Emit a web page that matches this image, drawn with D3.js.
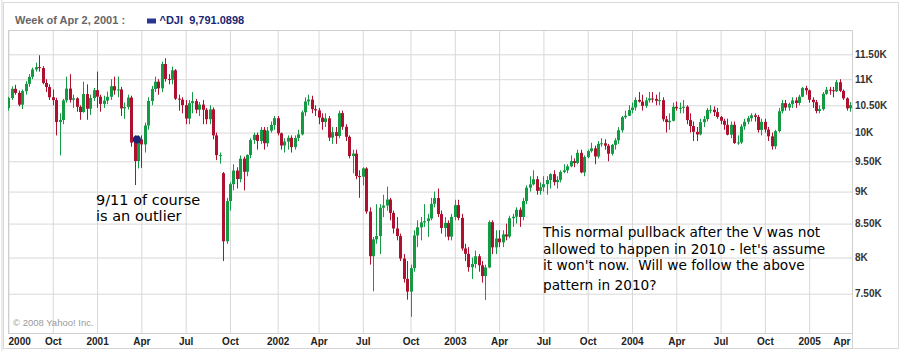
<!DOCTYPE html>
<html><head><meta charset="utf-8">
<script src="https://cdn.jsdelivr.net/npm/d3@7"></script>
<style>
html,body{margin:0;padding:0;background:#fff;}
svg{display:block;}
</style></head>
<body><svg id="c" width="903" height="351"></svg>
<script>
// ---------------- DATA (weekly ^DJI candles) ----------------
const firstWeek = "2000-07-03";
const opens = [
10448,10636,10813,10734,10511,10768,10909,11046,11193,11239,
11221,10927,10847,10651,10597,10192,10227,10591,10818,10603,
10630,10470,10374,10713,10435,10636,10787,10662,10525,10588,
10660,10864,10781,10800,10442,10466,10645,9823,9505,9879,
9791,10127,10580,10810,10951,10821,11302,11005,10990,11176,
10624,10605,10502,10253,10539,10577,10417,10513,10416,10241,
10423,9950,9606,9300,8236,8848,9120,9344,9204,9545,
9324,9608,9867,9960,9852,10049,9811,10035,10137,10260,
9988,9772,9840,9907,9744,9903,9968,10369,10572,10607,
10428,10404,10272,10191,10257,9911,10007,9940,10353,10104,
9925,9590,9632,9254,9243,9380,8685,8019,8264,8313,
8745,8778,8873,8664,8427,8313,7986,7701,7528,7850,
8322,8444,8518,8537,8579,8805,8896,8646,8434,8511,
8304,8602,8785,8587,8131,8054,7864,7909,8018,7891,
7740,7860,8522,8146,8277,8221,8338,8306,8583,8605,
8713,8601,8850,9063,9117,9201,9012,9070,9120,9188,
9285,9154,9191,9322,9349,9416,9503,9472,9645,9313,
9572,9675,9722,9582,9801,9810,9769,9629,9782,9863,
10042,10278,10305,10410,10459,10601,10568,10488,10593,10628,
10619,10584,10596,10240,10187,10213,10471,10442,10452,10473,
10226,10117,10013,9967,10188,10243,10410,10416,10372,10283,
10213,10140,9962,10140,9815,9825,10110,10195,10260,10313,
10284,10047,10193,10055,9933,9758,10027,10388,10539,10457,
10522,10592,10543,10662,10827,10783,10604,10558,10393,10427,
10716,10796,10785,10766,10941,10774,10630,10443];
const highs = [
10660,10860,10890,10780,10800,10960,11100,11230,11330,11480,
11260,11000,10900,10800,10640,10350,10620,11050,11100,10700,
10650,10500,10950,10900,10700,10830,11150,10700,10680,10760,
11000,11050,11050,10850,10550,10700,10680,9950,9950,9950,
10180,10650,10870,11050,11000,11350,11420,11100,11250,11200,
10700,10650,10600,10600,10750,10620,10560,10600,10450,10500,
10460,10000,9650,9320,8900,9150,9450,9400,9600,9580,
9620,9900,10000,10000,10100,10100,10100,10200,10300,10300,
10000,9900,9950,9950,9950,10050,10400,10650,10700,10680,
10500,10450,10350,10350,10300,10100,10100,10400,10400,10150,
9950,9700,9700,9350,9400,9400,8750,8300,8800,8800,
8950,9080,8900,8700,8600,8350,8050,7950,7900,8400,
8550,8600,8800,8650,8900,9000,9050,8700,8600,8550,
8650,8870,8870,8650,8200,8150,8000,8100,8050,7950,
7900,8550,8550,8400,8400,8400,8500,8620,8650,8750,
8750,8900,9100,9250,9350,9250,9150,9250,9250,9300,
9350,9250,9350,9450,9450,9600,9550,9700,9700,9600,
9700,9820,9770,9850,9900,9880,9800,9800,9900,10100,
10300,10400,10500,10550,10650,10750,10700,10650,10750,10750,
10700,10750,10650,10300,10350,10550,10570,10550,10600,10500,
10350,10200,10100,10250,10300,10450,10500,10480,10450,10300,
10250,10250,10200,10200,9950,10150,10250,10300,10350,10350,
10320,10250,10250,10100,10000,10050,10450,10600,10600,10550,
10650,10650,10700,10850,10870,10800,10650,10600,10500,10750,
10850,10850,10850,10984,11000,10800,10650,10560];
const lows = [
10400,10600,10700,10480,10430,10700,10850,11000,11150,11150,
10900,10750,10600,10500,9950,9600,10150,10550,10550,10450,
10380,10230,10360,10230,10320,10580,10450,10380,10450,10520,
10600,10700,10650,10300,10250,10420,9750,9106,9380,9389,
9650,10050,10500,10750,10700,10750,10950,10900,10900,10600,
10400,10350,10150,10150,10350,10350,10300,10150,10150,10150,
9880,9520,9460,7950,8200,8700,9020,9050,9150,9020,
9250,9550,9800,9700,9800,9700,9750,10000,10050,9950,
9700,9650,9700,9650,9700,9850,9950,10300,10500,10350,
10300,10150,10050,10100,9850,9800,9800,9900,10050,9850,
9550,9300,9200,8900,9100,8650,7900,7532,8200,8050,
8600,8700,8550,8350,8250,7950,7650,7420,7197,7800,
8150,8250,8450,8300,8550,8750,8600,8350,8300,8250,
8250,8550,8550,8100,7950,7800,7700,7850,7800,7650,
7416,7850,8050,8050,8150,8150,8250,8280,8450,8500,
8450,8550,8800,9000,9100,8950,8950,9000,8950,9050,
9100,9050,9150,9300,9300,9400,9400,9450,9300,9250,
9550,9650,9450,9550,9750,9700,9500,9600,9700,9800,
10000,10250,10300,10350,10400,10550,10400,10450,10550,10550,
10500,10500,10200,10000,10050,10200,10400,10350,10350,10150,
10000,9850,9850,9950,10100,10200,10350,10300,10250,10150,
10050,9950,9900,9800,9784,9800,10050,10150,10200,10200,
10000,9950,10000,9850,9700,9708,10000,10350,10400,10400,
10450,10450,10500,10650,10700,10550,10450,10350,10350,10400,
10700,10700,10650,10750,10750,10600,10400,10380];
const closes = [
10636,10813,10734,10511,10768,10909,11046,11193,11239,11221,
10927,10847,10651,10597,10192,10227,10591,10818,10603,10630,
10470,10374,10713,10435,10636,10787,10662,10525,10588,10660,
10864,10781,10800,10442,10466,10645,9823,9505,9879,9791,
10127,10580,10810,10951,10821,11302,11005,10990,11176,10624,
10605,10502,10253,10539,10577,10417,10513,10416,10241,10423,
9950,9606,9606,8236,8848,9120,9344,9204,9545,9324,
9608,9867,9960,9852,10049,9811,10035,10137,10260,9988,
9772,9840,9907,9744,9903,9968,10369,10572,10607,10428,
10404,10272,10191,10257,9911,10007,9940,10353,10104,9925,
9590,9632,9254,9243,9380,8685,8019,8264,8313,8745,
8778,8873,8664,8427,8313,7986,7701,7528,7850,8322,
8444,8518,8537,8579,8805,8896,8646,8434,8511,8304,
8602,8785,8587,8131,8054,7864,7909,8018,7891,7740,
7860,8522,8146,8277,8221,8338,8306,8583,8605,8713,
8601,8850,9063,9117,9201,9012,9070,9120,9188,9285,
9154,9191,9322,9349,9416,9503,9472,9645,9313,9572,
9675,9722,9582,9801,9810,9769,9629,9782,9863,10042,
10278,10305,10410,10459,10601,10568,10488,10593,10628,10619,
10584,10596,10240,10187,10213,10471,10442,10452,10473,10226,
10117,10013,9967,10188,10243,10410,10416,10372,10283,10213,
10140,9962,10140,9815,9825,10110,10195,10260,10313,10284,
10047,10193,10055,9933,9758,10027,10388,10539,10457,10522,
10592,10543,10662,10827,10783,10604,10558,10393,10427,10716,
10796,10785,10766,10941,10774,10630,10443,10503];

const yTickValues = [7500,8000,8500,9000,9500,10000,10500,11000,11500];
const yTickLabels = ["7.50K","8K","8.50K","9K","9.50K","10K","10.50K","11K","11.50K"];
const xTickDates = ["2000-07-03","2000-10-02","2001-01-01","2001-04-02","2001-07-02","2001-10-01",
  "2002-01-07","2002-04-01","2002-07-01","2002-10-07","2003-01-06","2003-04-07","2003-07-07",
  "2003-10-06","2004-01-05","2004-04-05","2004-07-05","2004-10-04","2005-01-03","2005-04-04"];
const xTickLabels = ["2000","Oct","2001","Apr","Jul","Oct","2002","Apr","Jul","Oct","2003",
  "Apr","Jul","Oct","2004","Apr","Jul","Oct","2005","Apr"];
const xDomain = ["2000-07-02","2005-04-01"];
const hoverWeek = "2001-04-02";
const hoverValue = 9791.0898;
const headerLabel = "Week of Apr 2, 2001 :";
const seriesLabel = "^DJI  9,791.0898";
const note1 = ["9/11 of course","is an outlier"];
const note2 = ["This normal pullback after the V was not",
  "allowed to happen in 2010 - let's assume",
  "it won't now.  Will we follow the above",
  "pattern in 2010?"];

// ---------------- CHART ----------------
const UP = "#139a43", DOWN = "#ae1030", NAVY = "#1b2672", GRID = "#d8d8d8";
const P = {left:8, right:852, top:30, bottom:333};
const parse = d3.utcParse("%Y-%m-%d");
const start = parse(firstWeek);
const candles = closes.map((c,i)=>({date:d3.utcDay.offset(start,7*i), o:opens[i], h:highs[i], l:lows[i], c:c}));

const x = d3.scaleUtc().domain(xDomain.map(parse)).range([P.left, P.right]);
const y = d3.scaleLog().domain([7500,11500]).range([293.7,54.3]);

const svg = d3.select("#c");
svg.append("rect").attr("x",0).attr("y",0).attr("width",903).attr("height",351).attr("fill","#fff");
// outer frame
svg.append("rect").attr("x",3.5).attr("y",2.5).attr("width",895).attr("height",346)
  .attr("fill","none").attr("stroke","#dadada").attr("stroke-width",1);
svg.append("rect").attr("x",1).attr("y",0).attr("width",2).attr("height",351).attr("fill","#ececec");

// header
svg.append("text").attr("x",15).attr("y",24).text(headerLabel)
  .attr("font-family","'Liberation Sans',Arial,sans-serif").attr("font-weight","bold")
  .attr("font-size","11px").attr("fill","#666");
svg.append("rect").attr("x",147).attr("y",18.5).attr("width",9).attr("height",5).attr("fill","#2a3590");
svg.append("text").attr("x",159.5).attr("y",24).text(seriesLabel).attr("xml:space","preserve")
  .attr("font-family","'Liberation Sans',Arial,sans-serif").attr("font-weight","bold")
  .attr("font-size","11px").attr("fill",NAVY);

// y axis + horizontal grid
const yAxis = d3.axisRight(y).tickValues(yTickValues)
  .tickFormat((d,i)=>yTickLabels[i]).tickSizeInner(-(P.right-P.left)).tickSizeOuter(0).tickPadding(3);
const gy = svg.append("g").attr("transform",`translate(${P.right},0)`).call(yAxis);
gy.select(".domain").remove();
gy.selectAll("line").attr("stroke",GRID);
gy.selectAll("text").attr("font-family","'Liberation Sans',Arial,sans-serif").attr("font-weight","bold")
  .attr("font-size","10px").attr("fill","#333");

// x axis + vertical grid
const xAxis = d3.axisBottom(x).tickValues(xTickDates.map(parse))
  .tickFormat((d,i)=>xTickLabels[i]).tickSizeInner(-(P.bottom-P.top)).tickSizeOuter(0).tickPadding(5);
const gx = svg.append("g").attr("transform",`translate(0,${P.bottom})`).call(xAxis);
gx.select(".domain").remove();
gx.selectAll("line").attr("stroke",GRID).filter(d=>x(d)>P.right+0.5||x(d)<P.left-0.5).remove();
gx.selectAll("text").attr("font-family","'Liberation Sans',Arial,sans-serif").attr("font-weight","bold")
  .attr("font-size","10px").attr("fill","#222");
const tks = gx.selectAll(".tick").nodes();
d3.select(tks[0]).select("text").attr("text-anchor","start").attr("x",P.left-x(parse(xTickDates[0])));
const lastT = tks[tks.length-1];
d3.select(lastT).select("text").attr("text-anchor","end").attr("x",P.right-2-x(parse(xTickDates[xTickDates.length-1])));

// frame lines
svg.append("rect").attr("x",P.left+0.5).attr("y",P.top+0.5).attr("width",P.right-P.left).attr("height",P.bottom-P.top)
  .attr("fill","none").attr("stroke","#cfcfcf");
svg.append("line").attr("x1",P.left).attr("x2",P.right+0.5).attr("y1",348.5).attr("y2",348.5).attr("stroke","#d4d4d4");
svg.append("line").attr("x1",P.right+0.5).attr("x2",P.right+0.5).attr("y1",P.bottom).attr("y2",348.5).attr("stroke","#d4d4d4");

// copyright
svg.append("text").attr("x",13).attr("y",326).text("\u00a9 2008 Yahoo! Inc.")
  .attr("font-family","'Liberation Sans',Arial,sans-serif").attr("font-size","9.5px").attr("fill","#9a9a9a");

// candles
svg.append("clipPath").attr("id","pc").append("rect").attr("x",P.left).attr("y",P.top)
  .attr("width",P.right-P.left).attr("height",P.bottom-P.top);
const gc = svg.append("g").attr("clip-path","url(#pc)");
const bw = 3;
const cg = gc.selectAll("g.c").data(candles).join("g").attr("class","c");
cg.append("line")
  .attr("x1",d=>Math.round(x(d.date))+0.5).attr("x2",d=>Math.round(x(d.date))+0.5)
  .attr("y1",d=>y(d.h)).attr("y2",d=>y(d.l))
  .attr("stroke",d=>d.c>=d.o?UP:DOWN).attr("stroke-width",1);
cg.append("rect")
  .attr("x",d=>Math.round(x(d.date))-1).attr("width",bw)
  .attr("y",d=>y(Math.max(d.o,d.c))).attr("height",d=>Math.max(1,y(Math.min(d.o,d.c))-y(Math.max(d.o,d.c))))
  .attr("fill",d=>d.c>=d.o?UP:DOWN);

// hover marker
svg.append("circle").attr("cx",x(parse(hoverWeek))-4.5).attr("cy",y(hoverValue)-5).attr("r",4).attr("fill",NAVY);

// annotations
const nf = "'DejaVu Sans',Verdana,sans-serif";
const t1 = svg.append("text").attr("font-family",nf).attr("font-size","14.5px").attr("fill","#000");
note1.forEach((s,i)=>t1.append("tspan").attr("x",96).attr("y",205+i*15.5).text(s));
const t2 = svg.append("text").attr("font-family",nf).attr("font-size","13.7px").attr("fill","#000").attr("xml:space","preserve");
note2.forEach((s,i)=>t2.append("tspan").attr("x",543).attr("y",237+i*16.5+(i===3?3:0)).text(s));
</script>
</body></html>
